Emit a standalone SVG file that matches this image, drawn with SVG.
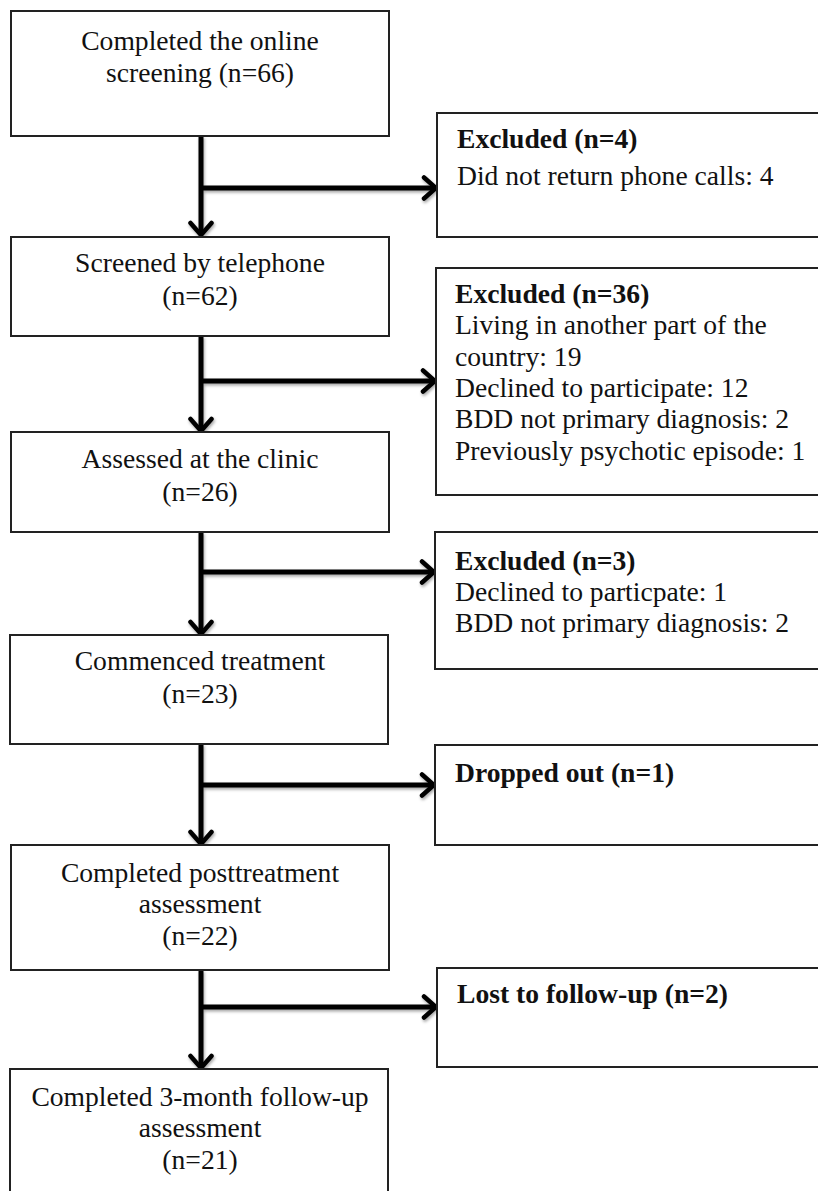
<svg xmlns="http://www.w3.org/2000/svg" width="818" height="1191" viewBox="0 0 818 1191">
<style>
.box{fill:#fff;stroke:#222;stroke-width:2}
.t{font-family:"Liberation Serif","Times New Roman",serif;font-size:27.6px;fill:#111}
.c{text-anchor:middle}
.b{font-weight:bold}
.conn{fill:none;stroke:#000;stroke-width:5;marker-end:url(#arr)}
</style>
<defs>
<marker id="arr" markerUnits="userSpaceOnUse" viewBox="0 0 18 26" refX="15" refY="13" markerWidth="18" markerHeight="26" orient="auto">
<path d="M3,2.5 L15,13 L3,23.5" fill="none" stroke="#000" stroke-width="4.5" stroke-linecap="round"/>
</marker>
<filter id="sh" x="-10%" y="-10%" width="130%" height="130%">
<feDropShadow dx="1" dy="2" stdDeviation="1.5" flood-color="#000" flood-opacity="0.35"/>
</filter>
</defs>
<rect width="818" height="1191" fill="#fff"/>
<g id="connectors" filter="url(#sh)">
<path class="conn" d="M201,136 V235"/>
<path class="conn" d="M201,188 H436"/>
<path class="conn" d="M201,336 V431"/>
<path class="conn" d="M201,381 H435"/>
<path class="conn" d="M201,532 V634"/>
<path class="conn" d="M201,572 H434"/>
<path class="conn" d="M201,744 V844"/>
<path class="conn" d="M201,785 H434"/>
<path class="conn" d="M201,970 V1068"/>
<path class="conn" d="M201,1007 H436"/>
</g>
<g id="n1"><rect class="box" x="11" y="11" width="378" height="125"/>
<text class="t c" x="200" y="50">Completed the online</text>
<text class="t c" x="200" y="82">screening (n=66)</text></g>
<g id="x1"><rect class="box" x="437" y="113" width="390" height="124"/>
<text class="t b" x="457" y="148">Excluded (n=4)</text>
<text class="t" x="457" y="185">Did not return phone calls: 4</text></g>
<g id="n2"><rect class="box" x="11" y="237" width="378" height="99"/>
<text class="t c" x="200" y="272">Screened by telephone</text>
<text class="t c" x="200" y="305">(n=62)</text></g>
<g id="x2"><rect class="box" x="436" y="268" width="390" height="227"/>
<text class="t b" x="455" y="303">Excluded (n=36)</text>
<text class="t" x="455" y="334">Living in another part of the</text>
<text class="t" x="455" y="366">country: 19</text>
<text class="t" x="455" y="397">Declined to participate: 12</text>
<text class="t" x="455" y="428">BDD not primary diagnosis: 2</text>
<text class="t" x="455" y="460">Previously psychotic episode: 1</text></g>
<g id="n3"><rect class="box" x="11" y="432" width="378" height="100"/>
<text class="t c" x="200" y="468">Assessed at the clinic</text>
<text class="t c" x="200" y="501">(n=26)</text></g>
<g id="x3"><rect class="box" x="435" y="532" width="390" height="137"/>
<text class="t b" x="455" y="570">Excluded (n=3)</text>
<text class="t" x="455" y="601">Declined to particpate: 1</text>
<text class="t" x="455" y="632">BDD not primary diagnosis: 2</text></g>
<g id="n4"><rect class="box" x="10" y="635" width="378" height="109"/>
<text class="t c" x="200" y="670">Commenced treatment</text>
<text class="t c" x="200" y="703">(n=23)</text></g>
<g id="x4"><rect class="box" x="435" y="745" width="390" height="100"/>
<text class="t b" x="455" y="782">Dropped out (n=1)</text></g>
<g id="n5"><rect class="box" x="11" y="845" width="378" height="125"/>
<text class="t c" x="200" y="882">Completed posttreatment</text>
<text class="t c" x="200" y="913">assessment</text>
<text class="t c" x="200" y="945">(n=22)</text></g>
<g id="x5"><rect class="box" x="437" y="968" width="390" height="99"/>
<text class="t b" x="457" y="1003">Lost to follow-up (n=2)</text></g>
<g id="n6"><rect class="box" x="10" y="1069" width="378" height="140"/>
<text class="t c" x="200" y="1106">Completed 3-month follow-up</text>
<text class="t c" x="200" y="1137">assessment</text>
<text class="t c" x="200" y="1169">(n=21)</text></g>
</svg>
